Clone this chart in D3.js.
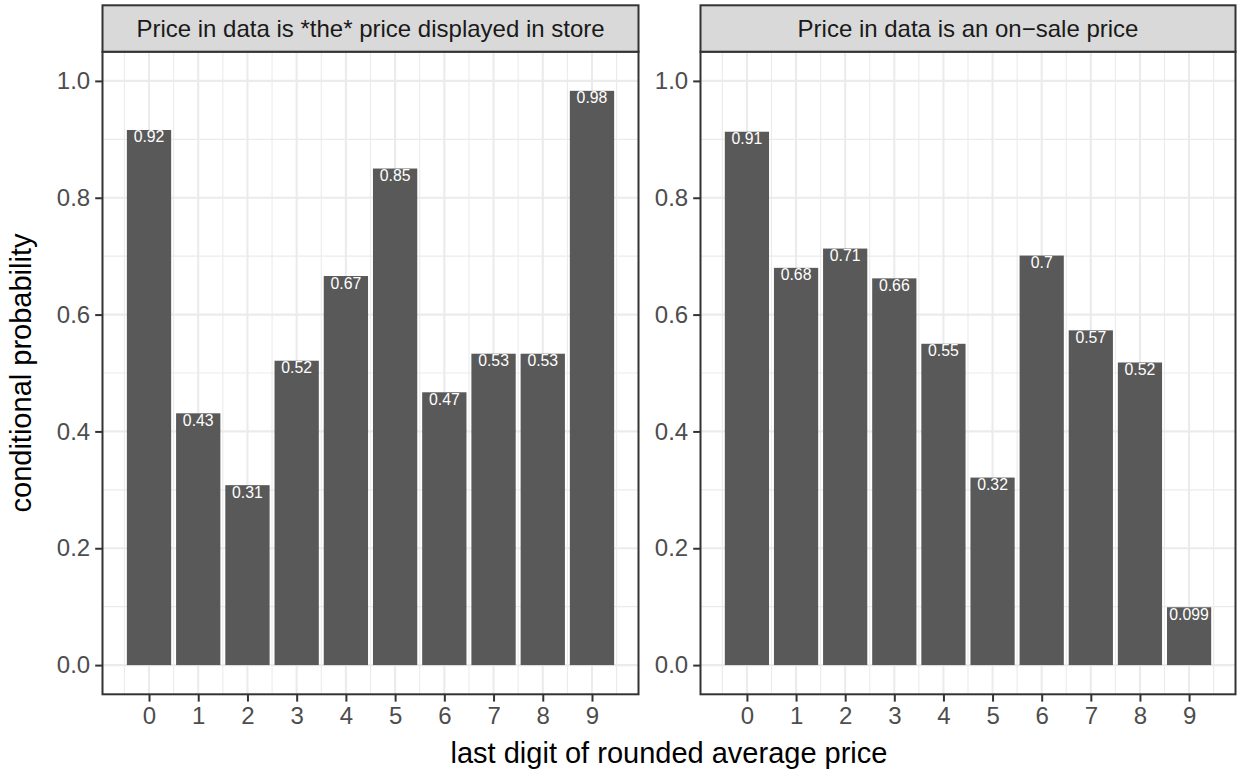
<!DOCTYPE html>
<html><head><meta charset="utf-8">
<script src="https://cdn.jsdelivr.net/npm/d3@7"></script>
<style>body{margin:0;background:#fff}svg{display:block;font-family:"Liberation Sans",Arial,sans-serif}</style>
</head><body><svg id="c" width="1238" height="770"></svg>
<script>
const digits = [0,1,2,3,4,5,6,7,8,9];
const panelTitles = ["Price in data is *the* price displayed in store", "Price in data is an on\u2212sale price"];
const displayedValues = [0.916, 0.431, 0.308, 0.521, 0.666, 0.850, 0.467, 0.533, 0.533, 0.983];
const saleValues = [0.913, 0.680, 0.713, 0.662, 0.550, 0.321, 0.701, 0.573, 0.518, 0.099];
const yTicks = [0, 0.2, 0.4, 0.6, 0.8, 1.0];
const yMinor = [0.1, 0.3, 0.5, 0.7, 0.9];
const xMinor = [-0.5,0.5,1.5,2.5,3.5,4.5,5.5,6.5,7.5,8.5,9.5];
const xTitle = "last digit of rounded average price";
const yTitle = "conditional probability";

const svg = d3.select("#c");
const panels = [
  {title: panelTitles[0], values: displayedValues, x0: 102.5, x1: 638.5},
  {title: panelTitles[1], values: saleValues, x0: 700.5, x1: 1235.5}
];
const stripTop = 5.3, panelTop = 51.7, panelBottom = 694.3;
const y = d3.scaleLinear().domain([-0.05, 1.05]).range([panelBottom, panelTop]);
const fmt = d3.format(".2~g");

panels.forEach(p => {
  const x = d3.scaleLinear().domain([-0.945, 9.945]).range([p.x0, p.x1]);
  const g = svg.append("g");
  g.append("rect").attr("x", p.x0).attr("y", panelTop).attr("width", p.x1-p.x0).attr("height", panelBottom-panelTop).attr("fill", "#fff");
  g.selectAll(".ymin").data(yMinor).join("line").attr("x1", p.x0).attr("x2", p.x1)
    .attr("y1", d=>y(d)).attr("y2", d=>y(d)).attr("stroke", "#EBEBEB").attr("stroke-width", 1.1);
  g.selectAll(".xmin").data(xMinor).join("line").attr("y1", panelTop).attr("y2", panelBottom)
    .attr("x1", d=>x(d)).attr("x2", d=>x(d)).attr("stroke", "#EBEBEB").attr("stroke-width", 1.1);
  g.selectAll(".ymaj").data(yTicks).join("line").attr("x1", p.x0).attr("x2", p.x1)
    .attr("y1", d=>y(d)).attr("y2", d=>y(d)).attr("stroke", "#EBEBEB").attr("stroke-width", 2.1);
  g.selectAll(".xmaj").data(digits).join("line").attr("y1", panelTop).attr("y2", panelBottom)
    .attr("x1", d=>x(d)).attr("x2", d=>x(d)).attr("stroke", "#EBEBEB").attr("stroke-width", 2.1);
  const bw = x(0.45) - x(-0.45);
  g.selectAll(".bar").data(digits).join("rect")
    .attr("x", d=>x(d-0.45)).attr("width", bw)
    .attr("y", (d,i)=>y(p.values[i])).attr("height", (d,i)=>y(0)-y(p.values[i]))
    .attr("fill", "#595959");
  g.selectAll(".lab").data(digits).join("text")
    .attr("x", d=>x(d)).attr("y", (d,i)=>y(p.values[i]) + 12.5)
    .attr("text-anchor", "middle").attr("font-size", 15.8).attr("fill", "#fff")
    .text((d,i)=>fmt(p.values[i]));
  g.append("rect").attr("x", p.x0).attr("y", panelTop).attr("width", p.x1-p.x0).attr("height", panelBottom-panelTop)
    .attr("fill", "none").attr("stroke", "#333333").attr("stroke-width", 2);
  g.append("rect").attr("x", p.x0).attr("y", stripTop).attr("width", p.x1-p.x0).attr("height", panelTop-stripTop)
    .attr("fill", "#D9D9D9").attr("stroke", "#333333").attr("stroke-width", 2);
  g.append("text").attr("x", (p.x0+p.x1)/2).attr("y", (stripTop+panelTop)/2 + 8.5)
    .attr("text-anchor", "middle").attr("font-size", 24).attr("fill", "#1A1A1A").text(p.title);
  const xa = d3.axisBottom(x).tickValues(digits).tickSize(7.3).tickPadding(5).tickFormat(d3.format("d"));
  const ax = g.append("g").attr("transform", `translate(0,${panelBottom})`).call(xa);
  ax.select(".domain").remove();
  ax.selectAll(".tick line").attr("stroke", "#333333").attr("stroke-width", 2);
  ax.selectAll(".tick text").attr("font-size", 24).attr("fill", "#4D4D4D").attr("font-family", "Liberation Sans, Arial, sans-serif");
  const ya = d3.axisLeft(y).tickValues(yTicks).tickSize(7.3).tickPadding(5).tickFormat(d3.format(".1f"));
  const ay = g.append("g").attr("transform", `translate(${p.x0},0)`).call(ya);
  ay.select(".domain").remove();
  ay.selectAll(".tick line").attr("stroke", "#333333").attr("stroke-width", 2);
  ay.selectAll(".tick text").attr("font-size", 24).attr("fill", "#4D4D4D").attr("font-family", "Liberation Sans, Arial, sans-serif");
});

svg.append("text").attr("x", (102.5+1235.5)/2).attr("y", 762.5).attr("text-anchor", "middle")
  .attr("font-size", 29).attr("fill", "#000").text(xTitle);
svg.append("text").attr("transform", `translate(31,${(panelTop+panelBottom)/2}) rotate(-90)`)
  .attr("text-anchor", "middle").attr("font-size", 29).attr("fill", "#000").text(yTitle);
</script></body></html>
